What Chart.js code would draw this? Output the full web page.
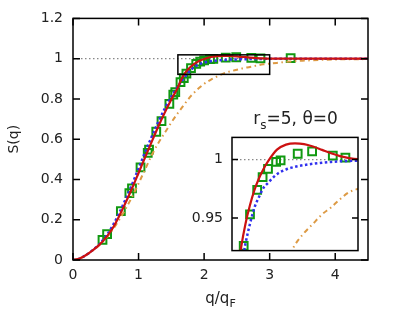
<!DOCTYPE html>
<html>
<head>
<meta charset="utf-8">
<script src="https://cdn.jsdelivr.net/npm/chart.js@4.4.1/dist/chart.umd.min.js"></script>
<style>
  html, body { margin: 0; padding: 0; background: #fff; }
  #wrap { position: relative; width: 395px; height: 327px; }
  canvas { position: absolute; display: block; }
  #main { left: 0; top: 0; }
  #inset { left: 186px; top: 120px; }
</style>
</head>
<body>
<div id="wrap">
  <canvas id="main" width="395" height="327"></canvas>
  <canvas id="inset" width="178" height="148"></canvas>
</div>
<script>
// symbols (green squares)
const qData = [0.45, 0.52, 0.73, 0.86, 0.90, 1.03, 1.14, 1.16, 1.27, 1.35, 1.47, 1.53, 1.56, 1.64, 1.69,
               1.73, 1.80, 1.88, 1.94, 2.00, 2.09, 2.14, 2.33, 2.49, 2.72, 2.86, 3.32];
const sData = [0.100, 0.128, 0.243, 0.332, 0.356, 0.460, 0.532, 0.548, 0.637, 0.690, 0.775, 0.821, 0.834, 0.883, 0.903,
               0.926, 0.953, 0.974, 0.985, 0.992, 0.998, 0.9994, 1.005, 1.007, 1.0034, 1.0017, 1.003];

// curves, all on the same q grid
const qGrid = [0, 0.1, 0.2, 0.3, 0.4, 0.5, 0.6, 0.7, 0.8, 0.9, 1.0, 1.1, 1.2, 1.3, 1.4, 1.5, 1.6, 1.65, 1.7, 1.75,
               1.8, 1.85, 1.9, 1.95, 2.0, 2.1, 2.2, 2.3, 2.4, 2.5, 2.6, 2.7, 2.8, 2.9, 3.0, 3.25, 3.5, 4.0, 4.5];
const sRed = [0, 0.007, 0.025, 0.048, 0.075, 0.11, 0.155, 0.215, 0.283, 0.355, 0.432, 0.51, 0.587, 0.662, 0.732, 0.797,
              0.857, 0.895, 0.924, 0.945, 0.961, 0.974, 0.984, 0.992, 0.9985, 1.0085, 1.0128, 1.0139, 1.0133, 1.0112,
              1.0083, 1.0054, 1.003, 1.0013, 1.0003, 0.9999, 1.0, 1.0, 1.0];
const sBlue = [0, 0.007, 0.025, 0.049, 0.078, 0.117, 0.167, 0.23, 0.3, 0.375, 0.455, 0.535, 0.612, 0.685, 0.752, 0.812,
               0.862, 0.885, 0.906, 0.928, 0.945, 0.959, 0.968, 0.9757, 0.980, 0.9875, 0.9915, 0.9938, 0.9953, 0.9964,
               0.9973, 0.998, 0.9985, 0.9988, 0.9991, 0.9995, 0.9997, 0.9999, 1.0];
const sOrange = [0, 0.007, 0.025, 0.047, 0.073, 0.107, 0.148, 0.197, 0.252, 0.313, 0.38, 0.45, 0.52, 0.58, 0.632, 0.683,
                 0.73, 0.752, 0.774, 0.795, 0.815, 0.832, 0.848, 0.862, 0.875, 0.895, 0.912, 0.927, 0.937, 0.945,
                 0.953, 0.959, 0.966, 0.972, 0.975, 0.984, 0.99, 0.996, 0.998];

// reference line at S = 1
const refQ = [0, 4.5];
const refS = [1, 1];

// axes
const xTicks = [0, 1, 2, 3, 4];
const yTicks = [0, 0.2, 0.4, 0.6, 0.8, 1, 1.2];
const insetYTicks = [0.95, 1];
const insetX = [1.6, 3.0];
const insetY = [0.922, 1.019];

const pts = (xs, ys) => xs.map((x, i) => ({x: x, y: ys[i]}));

Chart.defaults.font.family = "'DejaVu Sans', sans-serif";
Chart.defaults.color = '#222';

// box + inward ticks on all sides
const framePlugin = {
  id: 'frame',
  afterDraw(chart, args, o) {
    const {ctx, chartArea: a, scales} = chart;
    ctx.save();
    ctx.strokeStyle = '#000';
    ctx.lineWidth = 1.5;
    ctx.beginPath();
    if (o.xTicks) {
      scales.x.ticks.forEach(t => {
        const px = scales.x.getPixelForValue(t.value);
        ctx.moveTo(px, a.bottom); ctx.lineTo(px, a.bottom - o.len);
        ctx.moveTo(px, a.top); ctx.lineTo(px, a.top + o.len);
      });
    }
    scales.y.ticks.forEach(t => {
      const py = scales.y.getPixelForValue(t.value);
      ctx.moveTo(a.left, py); ctx.lineTo(a.left + o.len, py);
      ctx.moveTo(a.right, py); ctx.lineTo(a.right - o.len, py);
    });
    ctx.stroke();
    ctx.strokeRect(a.left, a.top, a.right - a.left, a.bottom - a.top);
    ctx.restore();
  }
};

const whiteArea = {
  id: 'whiteArea',
  beforeDraw(chart) {
    const {ctx, chartArea: a} = chart;
    ctx.save();
    ctx.fillStyle = '#fff';
    ctx.fillRect(a.left, a.top, a.right - a.left, a.bottom - a.top);
    ctx.restore();
  }
};

// zoom box, x title with subscript, annotation
const mainExtras = {
  id: 'mainExtras',
  afterDatasetsDraw(chart) {
    const {ctx, chartArea: a, scales: {x, y}} = chart;
    ctx.save();
    ctx.strokeStyle = '#000';
    ctx.lineWidth = 1.5;
    const x0 = x.getPixelForValue(insetX[0]), x1 = x.getPixelForValue(insetX[1]);
    const y0 = y.getPixelForValue(insetY[0]), y1 = y.getPixelForValue(insetY[1]);
    ctx.strokeRect(x0, y1, x1 - x0, y0 - y1);

    ctx.fillStyle = '#222';
    ctx.textBaseline = 'alphabetic';
    ctx.textAlign = 'left';
    // x title: q/q_F
    ctx.font = "15px 'DejaVu Sans'";
    const w1 = ctx.measureText('q/q').width;
    ctx.font = "11px 'DejaVu Sans'";
    const w2 = ctx.measureText('F').width;
    let tx = (a.left + a.right) / 2 - (w1 + w2) / 2;
    const ty = 303;
    ctx.font = "15px 'DejaVu Sans'";
    ctx.fillText('q/q', tx, ty);
    ctx.font = "11px 'DejaVu Sans'";
    ctx.fillText('F', tx + w1, ty + 4);

    // annotation r_s=5, θ=0
    let nx = x.getPixelForValue(2.75);
    const ny = y.getPixelForValue(0.676);
    ctx.font = "17px 'DejaVu Sans'";
    ctx.fillText('r', nx, ny);
    nx += ctx.measureText('r').width;
    ctx.font = "12px 'DejaVu Sans'";
    ctx.fillText('s', nx, ny + 5);
    nx += ctx.measureText('s').width;
    ctx.font = "17px 'DejaVu Sans'";
    ctx.fillText('=5, \u03b8=0', nx, ny);
    ctx.restore();
  }
};

function curveSets() {
  return [
    {
      data: pts(qGrid, sRed), borderColor: '#cc1111', borderWidth: 2.2,
      pointRadius: 0, cubicInterpolationMode: 'monotone', fill: false
    },
    {
      data: pts(qGrid, sBlue), borderColor: '#3030ee', borderWidth: 2.5, borderDash: [2.5, 2.5],
      pointRadius: 0, cubicInterpolationMode: 'monotone', fill: false
    },
    {
      data: pts(qGrid, sOrange), borderColor: '#dd9a44', borderWidth: 2, borderDash: [5, 3.5, 1.5, 3.5],
      pointRadius: 0, cubicInterpolationMode: 'monotone', fill: false
    },
    {
      data: pts(qData, sData), showLine: false, pointStyle: 'rect', pointRadius: 5.5,
      pointBorderWidth: 2, pointBorderColor: '#119911', pointBackgroundColor: 'rgba(0,0,0,0)'
    },
    {
      data: pts(refQ, refS), borderColor: '#888', borderWidth: 1.2, borderDash: [1.5, 2.5],
      pointRadius: 0, fill: false
    }
  ];
}

const setTicks = arr => scale => { scale.ticks = arr.map(v => ({value: v})); };
const plainLabel = v => String(v);

new Chart(document.getElementById('main'), {
  type: 'line',
  data: { datasets: curveSets() },
  options: {
    responsive: false,
    animation: false,
    layout: { padding: { left: 0, top: 16, right: 27, bottom: 0 } },
    plugins: {
      legend: { display: false },
      tooltip: { enabled: false },
      frame: { xTicks: true, len: 7 }
    },
    scales: {
      x: {
        type: 'linear', min: 0, max: 4.5,
        afterBuildTicks: setTicks(xTicks),
        afterFit: s => { s.height = 67; },
        grid: { display: false, drawTicks: false },
        border: { display: false },
        ticks: { font: { size: 14 }, padding: 7, callback: plainLabel }
      },
      y: {
        min: 0, max: 1.2,
        afterBuildTicks: setTicks(yTicks),
        afterFit: s => { s.width = 73; },
        grid: { display: false, drawTicks: false },
        border: { display: false },
        ticks: { font: { size: 14 }, padding: 10, callback: plainLabel },
        title: { display: true, text: 'S(q)', font: { size: 14 }, padding: { top: 6, bottom: 0 } }
      }
    }
  },
  plugins: [framePlugin, mainExtras]
});

new Chart(document.getElementById('inset'), {
  type: 'line',
  data: { datasets: curveSets() },
  options: {
    responsive: false,
    animation: false,
    layout: { autoPadding: false, padding: { left: 0, top: 10, right: 6, bottom: 10 } },
    plugins: {
      legend: { display: false },
      tooltip: { enabled: false },
      frame: { xTicks: false, len: 6 }
    },
    scales: {
      x: { type: 'linear', min: insetX[0], max: insetX[1], display: false },
      y: {
        min: insetY[0], max: insetY[1],
        afterBuildTicks: setTicks(insetYTicks),
        afterFit: s => { s.width = 46; },
        grid: { display: false, drawTicks: false },
        border: { display: false },
        ticks: { font: { size: 14 }, padding: 9, callback: plainLabel }
      }
    }
  },
  plugins: [whiteArea, framePlugin]
});
</script>
</body>
</html>
